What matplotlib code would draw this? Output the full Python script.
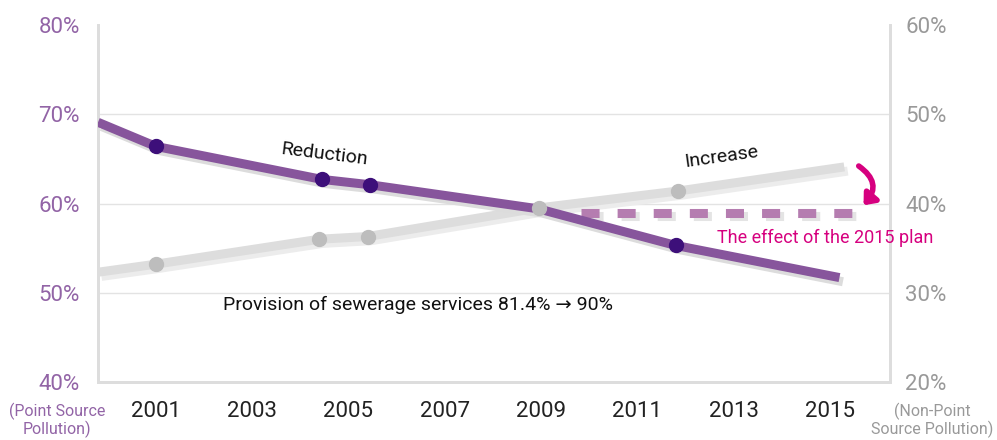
import matplotlib
matplotlib.use("Agg")
import matplotlib.pyplot as plt
import matplotlib.patheffects as pe
from matplotlib.patches import FancyArrowPatch

plt.rcParams['font.family'] = ['Roboto', 'DejaVu Sans']

# point source pollution (left axis)
point_years = [1999.8, 2001.0, 2004.45, 2005.45, 2008.95, 2011.8, 2015.2]
point_vals = [69.1, 66.4, 62.7, 62.1, 59.4, 55.3, 51.7]
point_marker_years = [2001.0, 2004.45, 2005.45, 2011.8]
point_marker_vals = [66.4, 62.7, 62.1, 55.3]

# non-point source pollution (right axis)
nonpoint_years = [1999.8, 2001.0, 2004.4, 2005.4, 2008.95, 2011.85, 2015.3]
nonpoint_vals = [32.3, 33.2, 36.0, 36.3, 39.5, 41.4, 44.1]
nonpoint_marker_years = [2001.0, 2004.4, 2005.4, 2008.95, 2011.85]
nonpoint_marker_vals = [33.2, 36.0, 36.3, 39.5, 41.4]

# effect of the 2015 plan (right axis)
plan_years = [2009.84, 2015.55]
plan_vals = [38.95, 38.95]

xticks = [2001, 2003, 2005, 2007, 2009, 2011, 2013, 2015]
left_ticks = [40, 50, 60, 70, 80]
right_ticks = [20, 30, 40, 50, 60]

purple = '#87559c'
dark_purple = '#3d0f7a'
light_gray = '#dddddd'
pink = '#d6007f'

fig = plt.figure(figsize=(9.97, 4.4), dpi=100)
ax = fig.add_axes([0.0983, 0.1318, 0.7944, 0.8114])
ax2 = ax.twinx()
ax.set_zorder(ax2.get_zorder() + 1)
ax.patch.set_visible(False)

ax.set_xlim(1999.8, 2016.25)
ax.set_ylim(40, 80)
ax2.set_ylim(20, 60)

# grid lines
for v in [30, 40, 50]:
    ax2.axhline(v, color='#e3e3e3', lw=1, zorder=0)

for a in (ax, ax2):
    a.spines['top'].set_visible(False)
    for s in ('left', 'right', 'bottom'):
        a.spines[s].set_color('#dddddd')
        a.spines[s].set_linewidth(2)

# gray line
ax2.plot(nonpoint_years, nonpoint_vals, color=light_gray, lw=6.5, solid_capstyle='butt',
         path_effects=[pe.SimpleLineShadow(offset=(2.5, -3), shadow_color='#ececec', alpha=1),
                       pe.Normal()], zorder=2)

# dashed plan line
ax2.plot(plan_years, plan_vals, color='#b57db0', lw=6.5, linestyle=(0, (2, 2)),
         dash_capstyle='butt',
         path_effects=[pe.SimpleLineShadow(offset=(2.5, -2.5), shadow_color='#e4e4e4', alpha=1),
                       pe.Normal()], zorder=2)

# purple line
ax.plot(point_years, point_vals, color=purple, lw=6.5, solid_capstyle='butt',
        path_effects=[pe.SimpleLineShadow(offset=(2.5, -3), shadow_color='#dcdcdc', alpha=1),
                      pe.Normal()], zorder=3)
ax.plot(point_marker_years, point_marker_vals, 'o', color=dark_purple, ms=10, zorder=4)
ax.plot(nonpoint_marker_years, nonpoint_marker_vals, 'o', color='#bdbdbd', ms=10,
        transform=ax2.transData, zorder=4)

# ticks
ax.set_xticks(xticks)
ax.set_xticklabels([str(y) for y in xticks], fontsize=16, color='#222222')
ax.set_yticks(left_ticks)
ax.set_yticklabels([f'{v}%' for v in left_ticks], fontsize=16, color='#9264a6')
ax2.set_yticks(right_ticks)
ax2.set_yticklabels([f'{v}%' for v in right_ticks], fontsize=16, color='#999999')
ax.tick_params(axis='x', length=0, pad=14)
ax.tick_params(axis='y', length=0, pad=13)
ax2.tick_params(axis='y', length=0, pad=11)

# annotations
ax.text(2004.5, 65.5, 'Reduction', fontsize=14, rotation=-7, ha='center', va='center',
        color='#111111')
ax.text(2012.75, 45.2, 'Increase', fontsize=14, rotation=8, ha='center', va='center',
        color='#111111', transform=ax2.transData)
ax.text(2012.65, 36.1, 'The effect of the 2015 plan', fontsize=13, ha='left',
        va='center', color=pink, transform=ax2.transData, zorder=6)
ax.text(2002.4, 48.6, 'Provision of sewerage services 81.4% \u2192 90%', fontsize=14,
        ha='left', va='center', color='#111111')

arrow = FancyArrowPatch((2015.6, 44.2), (2015.7, 39.8), transform=ax2.transData,
                        connectionstyle='arc3,rad=-0.55',
                        arrowstyle='-|>,head_length=6,head_width=5',
                        color=pink, lw=4, shrinkA=0, shrinkB=0, zorder=6)
ax.add_patch(arrow)

fig.text(0.057, 0.045, '(Point Source\nPollution)', fontsize=11.5, color='#9264a6',
         ha='center', va='center', linespacing=1.1)
fig.text(0.935, 0.045, '(Non-Point\nSource Pollution)', fontsize=11.5, color='#999999',
         ha='center', va='center', linespacing=1.1)

fig.savefig('out.png', dpi=100)
